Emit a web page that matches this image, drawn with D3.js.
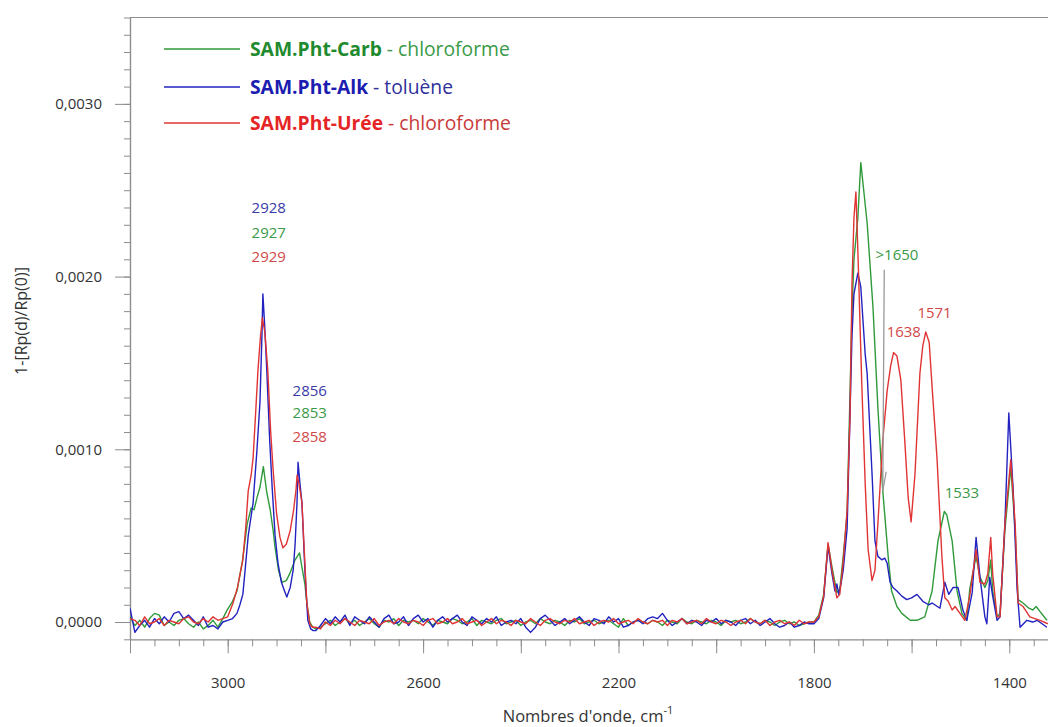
<!DOCTYPE html>
<html><head><meta charset="utf-8">
<script src="https://cdn.jsdelivr.net/npm/d3@7"></script>
<style>
html,body{margin:0;padding:0;background:#fff;}
text{font-family:"Open Sans",Lato,sans-serif;}
</style></head>
<body><svg id="chart" width="1048" height="727"></svg>
<script>
// ---------- DATA (values in units of 1e-4) ----------
const seriesNames = ["SAM.Pht-Carb", "SAM.Pht-Alk", "SAM.Pht-Urée"];
const solvents = ["chloroforme", "toluène", "chloroforme"];

// baseline grids (wavenumbers) with hand-read noise
const gridA = d3.range(3200, 3009, -10);   // 3200 .. 3010
const gridB = d3.range(2820, 1809, -10);   // 2820 .. 1810

const carbBaseA = [0.3,-0.2,0.1,-0.3,0.2,0.5,0.4,-0.2,0.0,-0.2,0.1,0.2,-0.1,-0.3,0.0,-0.4,-0.2,0.1,-0.3,0.2];
const alkBaseA  = [0.8,-0.6,-0.2,0.1,-0.3,0.2,-0.1,0.3,0.0,0.5,0.6,0.2,0.4,0.1,-0.2,0.3,-0.3,-0.2,-0.4,0.0];
const ureeBaseA = [0.2,0.1,-0.2,0.3,-0.1,0.0,0.2,-0.2,0.1,0.0,-0.1,0.2,0.3,0.0,-0.1,0.2,0.0,0.3,0.1,0.2];

const carbBaseB = [
 -0.4,-0.3,-0.1,0.1,-0.2,0.0,0.2,-0.1,0.1,-0.2,
 0.0,0.2,-0.1,-0.3,0.1,0.0,0.2,-0.2,0.1,0.0,
 0.1,-0.1,0.2,0.0,-0.2,0.1,0.0,-0.1,0.2,0.1,
 -0.1,0.0,0.2,-0.2,0.1,0.0,-0.1,0.1,0.2,-0.1,
 0.0,0.1,-0.2,0.0,0.1,-0.1,0.2,0.0,-0.1,0.1,
 0.0,-0.2,0.1,0.0,0.2,-0.1,0.0,0.1,-0.1,0.0,
 0.1,-0.1,-0.3,0.2,-0.2,0.0,0.1,0.0,-0.1,0.1,
 0.0,-0.2,0.1,0.0,-0.1,0.2,0.0,-0.1,0.1,0.0,
 -0.1,0.1,0.0,-0.2,0.1,0.0,0.1,-0.1,0.0,0.2,
 0.0,-0.1,0.1,0.0,-0.2,0.0,0.1,-0.1,0.0,-0.2,
 -0.1,0.0];
const alkBaseB = [
 -0.5,-0.2,0.2,-0.1,0.3,0.0,0.4,-0.2,0.3,0.1,
 -0.1,0.3,0.0,-0.3,0.2,0.4,-0.1,0.0,0.3,-0.2,
 0.2,0.4,0.0,0.2,-0.3,0.1,0.3,0.0,0.2,0.4,
 0.0,-0.2,0.3,0.1,-0.1,0.2,0.0,0.3,-0.2,0.0,
 0.1,-0.1,0.2,-0.3,-0.6,-0.3,0.2,0.4,0.1,-0.2,
 0.0,0.2,-0.1,0.1,0.3,0.0,-0.2,0.2,0.1,-0.1,
 0.3,0.0,0.2,-0.3,-0.2,0.0,0.1,-0.1,0.2,0.3,
 0.2,0.5,0.1,-0.2,0.0,0.2,-0.1,0.1,0.0,-0.2,
 0.1,0.0,0.2,-0.1,0.1,0.0,-0.2,0.1,0.2,-0.1,
 0.1,-0.2,0.0,0.2,-0.1,-0.3,-0.2,0.0,-0.3,-0.2,
 0.0,-0.1];
const ureeBaseB = [
 -0.3,-0.4,0.0,-0.2,0.1,-0.1,0.2,0.0,-0.2,0.1,
 0.0,-0.1,0.2,-0.2,0.0,0.1,-0.1,0.2,0.0,-0.1,
 0.1,0.0,-0.2,0.1,0.2,-0.1,0.0,0.2,-0.1,0.0,
 0.2,-0.1,0.0,0.1,-0.2,0.0,0.2,-0.1,0.1,0.0,
 -0.2,0.1,0.0,-0.1,0.2,0.0,-0.2,0.1,0.2,0.0,
 -0.1,0.1,0.0,0.2,-0.1,0.0,0.1,-0.2,0.0,0.1,
 0.0,0.2,-0.1,0.0,0.1,-0.1,0.2,0.0,-0.1,0.1,
 0.0,0.1,-0.2,0.1,0.0,0.2,-0.1,0.0,0.1,-0.1,
 0.2,0.0,-0.1,0.1,0.0,-0.2,0.0,0.1,-0.1,0.2,
 0.0,-0.1,0.1,-0.2,0.0,0.1,-0.1,0.0,-0.2,0.1,
 -0.1,0.0];

// band regions: [wavenumber, value]
const carbBands = [
 [3001,0.7],[2990,1.2],[2981,1.8],[2970,3.5],[2960,5.7],[2952,6.6],[2946,6.5],[2940,7.2],[2934,7.8],[2927,9.0],
 [2920,7.5],[2913,6.5],[2907,5.3],[2903,4.3],[2896,3.0],[2889,2.3],[2880,2.4],[2873,2.8],[2862,3.6],[2853,4.0],
 [2847,3.0],[2842,2.2],[2838,1.1],[2832,0.0],[2826,-0.3],
 [1800,0.0],[1790,0.4],[1780,1.6],[1771,4.5],[1763,3.2],[1753,1.7],[1747,1.9],[1740,3.8],[1732,6.3],[1722,18.0],
 [1718,21.0],[1710,23.4],[1704,26.6],[1691,23.1],[1679,18.2],[1669,12.4],[1659,7.6],[1648,3.8],[1641,1.8],[1630,0.9],
 [1620,0.5],[1603,0.1],[1589,0.1],[1573,0.3],[1558,1.8],[1546,4.7],[1533,6.4],[1528,6.2],[1517,4.7],[1507,1.8],
 [1497,0.5],[1487,0.1],[1481,1.9],[1468,3.8],[1460,2.6],[1450,2.0],[1444,2.4],[1438,3.6],[1434,1.8],[1425,0.3],
 [1419,0.5],[1409,5.3],[1397,9.0],[1388,5.3],[1382,1.3],[1372,1.1],[1360,0.8],[1352,0.7],[1345,0.9],[1337,0.6],[1323,0.1]
];
const alkBands = [
 [3000,0.1],[2990,0.2],[2981,0.5],[2975,1.0],[2969,1.6],[2965,2.8],[2958,5.0],[2948,6.9],[2940,10.0],[2934,12.7],
 [2930,16.5],[2928,19.0],[2924,17.0],[2920,14.6],[2914,10.5],[2909,7.8],[2903,5.0],[2897,3.4],[2890,2.3],[2885,1.9],
 [2879,1.45],[2872,2.0],[2866,3.0],[2862,4.5],[2858,7.0],[2856,9.25],[2852,8.0],[2848,6.9],[2842,3.0],[2836,0.1],
 [2830,-0.4],[2825,-0.5],
 [1800,-0.1],[1790,0.2],[1780,1.4],[1771,4.4],[1763,2.8],[1757,1.8],[1753,2.2],[1749,1.6],[1744,2.3],[1740,3.0],
 [1732,5.4],[1722,16.6],[1718,19.0],[1714,19.6],[1710,20.2],[1704,19.4],[1695,15.5],[1691,14.4],[1681,8.6],[1675,4.7],
 [1669,3.8],[1661,3.6],[1655,3.7],[1650,3.4],[1644,2.3],[1638,2.0],[1630,1.8],[1620,1.5],[1610,1.3],[1600,1.4],
 [1589,1.6],[1577,1.2],[1565,1.0],[1558,1.1],[1542,0.8],[1532,2.3],[1524,1.6],[1515,2.0],[1505,2.0],[1495,0.7],
 [1487,0.1],[1476,1.7],[1468,4.9],[1460,2.6],[1450,0.3],[1446,-0.1],[1440,2.6],[1434,1.5],[1425,0.1],[1419,0.3],
 [1409,5.7],[1401,12.1],[1392,7.6],[1384,1.9],[1378,-0.3],[1364,0.1],[1352,0.0],[1343,0.1],[1323,-0.3]
];
const ureeBands = [
 [3000,0.3],[2989,1.1],[2980,2.0],[2969,3.6],[2963,5.5],[2958,7.6],[2952,8.5],[2948,9.5],[2943,12.0],[2938,14.6],
 [2933,16.5],[2929,17.6],[2924,16.8],[2918,14.6],[2912,11.0],[2907,8.8],[2900,6.3],[2893,4.9],[2887,4.3],[2880,4.5],
 [2872,5.3],[2865,6.5],[2860,7.7],[2858,8.5],[2854,8.0],[2848,6.9],[2843,4.0],[2838,1.1],[2832,-0.1],[2827,-0.3],
 [1800,0.0],[1790,0.3],[1780,1.5],[1771,4.6],[1763,3.0],[1753,1.4],[1747,1.6],[1740,3.5],[1732,6.5],[1726,12.0],
 [1722,19.6],[1718,23.4],[1714,24.9],[1710,21.5],[1702,13.8],[1695,8.0],[1689,4.2],[1681,2.4],[1675,3.0],[1669,5.7],
 [1659,10.5],[1650,13.4],[1643,14.8],[1637,15.6],[1630,15.4],[1622,14.0],[1614,10.5],[1607,7.2],[1601,5.8],[1593,8.6],
 [1583,14.4],[1577,16.0],[1571,16.8],[1564,16.2],[1558,13.6],[1548,9.5],[1538,3.8],[1532,1.4],[1525,1.2],[1517,0.7],
 [1511,0.9],[1501,0.5],[1491,0.1],[1481,1.5],[1468,4.2],[1460,2.3],[1450,2.2],[1444,2.8],[1438,4.9],[1434,2.8],
 [1425,0.3],[1419,0.3],[1409,5.7],[1397,9.4],[1388,5.7],[1382,1.1],[1372,0.9],[1358,0.3],[1337,0.1],[1321,-0.1]
];

const seriesColors = ["#2f9a3a", "#2222c0", "#e03434"];
const boldColors   = ["#1f8a2e", "#1c1cb0", "#e52525"];
const solventColors= ["#3a9a48", "#30309a", "#c83a3a"];

const yTickValues = [0, 0.001, 0.002, 0.003];
const yTickLabels = ["0,0000", "0,0010", "0,0020", "0,0030"];
const xTickValues = [3000, 2600, 2200, 1800, 1400];
const xTickLabels = ["3000", "2600", "2200", "1800", "1400"];

// label anchor positions: wavenumber (x) and value in 1e-4 (text baseline)
const peakLabels = [
 {t:"2928", wn:2916, v:23.7, c:1}, {t:"2927", wn:2916, v:22.25, c:0}, {t:"2929", wn:2916, v:20.85, c:2},
 {t:"2856", wn:2832, v:13.1, c:1}, {t:"2853", wn:2832, v:11.8, c:0}, {t:"2858", wn:2832, v:10.4, c:2},
 {t:">1650", wn:1630, v:20.95, c:0},
 {t:"1638", wn:1616, v:16.5, c:2}, {t:"1571", wn:1553, v:17.6, c:2},
 {t:"1533", wn:1497, v:7.2, c:0}
];

// ---------- BUILD ----------
function build(baseA, bands1, baseB, bands2) {
  const pts = [];
  gridA.forEach((w,i)=>pts.push([w, baseA[i]]));
  bands1.forEach(p=>pts.push(p));
  gridB.forEach((w,i)=>pts.push([w, baseB[i]]));
  bands2.forEach(p=>pts.push(p));
  return pts.map(p=>[p[0], p[1]*1e-4]);
}
function split(b){ const i=b.findIndex(p=>p[0]===1800); return [b.slice(0,i), b.slice(i)]; }
const cb = split(carbBands), ab = split(alkBands), ub = split(ureeBands);
const data = [
  build(carbBaseA, cb[0], carbBaseB, cb[1]),
  build(alkBaseA, ab[0], alkBaseB, ab[1]),
  build(ureeBaseA, ub[0], ureeBaseB, ub[1])
];

const svg = d3.select("#chart");
const plotL = 130, plotT = 17.5, plotB = 639.3;
const x = d3.scaleLinear().domain([3200, 1400]).range([plotL, 1009.3]);
const xRight = x.invert(1048);
const y = d3.scaleLinear().domain([-0.0001, 0.0035]).range([plotB, plotT]);
const axisColor = "#8c8c8c";

svg.append("defs").append("clipPath").attr("id","clip")
  .append("rect").attr("x",plotL).attr("y",plotT).attr("width",1048-plotL).attr("height",plotB-plotT);

// frame
svg.append("line").attr("x1",plotL).attr("x2",1048).attr("y1",plotT).attr("y2",plotT).attr("stroke",axisColor).attr("stroke-width",1.2);

// Y axis
const yMinor = d3.range(-1, 36).map(i=>i*1e-4);
const gyMinor = svg.append("g").attr("transform",`translate(${plotL},0)`)
  .call(d3.axisLeft(y).tickValues(yMinor).tickSize(6).tickFormat("").tickSizeOuter(0));
const gy = svg.append("g").attr("transform",`translate(${plotL},0)`)
  .call(d3.axisLeft(y).tickValues(yTickValues).tickSize(15).tickPadding(13).tickSizeOuter(0)
  .tickFormat((d,i)=>yTickLabels[i]));
[gy, gyMinor].forEach(g=>{
  g.select(".domain").attr("stroke",axisColor).attr("stroke-width",1.2);
  g.selectAll(".tick line").attr("stroke",axisColor);
});
gy.selectAll(".tick text").attr("font-size",15).attr("fill","#333").attr("font-family","'Open Sans', sans-serif");

// X axis
const xMinor = d3.range(3200, 1299, -50).filter(v=>v>=xRight);
const gxMinor = svg.append("g").attr("transform",`translate(0,${plotB})`)
  .call(d3.axisBottom(x).tickValues(xMinor).tickSize(7).tickFormat("").tickSizeOuter(0));
gxMinor.select(".domain").attr("stroke",axisColor).attr("stroke-width",1.2).attr("d",`M${plotL},0.5H1048`);
const xMajor = d3.range(3200, 1299, -200).filter(v=>v>=xRight);
const gxMajor = svg.append("g").attr("transform",`translate(0,${plotB})`)
  .call(d3.axisBottom(x).tickValues(xMajor).tickSize(14).tickFormat("").tickSizeOuter(0));
gxMajor.select(".domain").remove();
const gx = svg.append("g").attr("transform",`translate(0,${plotB})`)
  .call(d3.axisBottom(x).tickValues(xTickValues).tickSize(0).tickPadding(38).tickFormat((d,i)=>xTickLabels[i]));
gx.select(".domain").remove();
gx.selectAll(".tick text").attr("font-size",15).attr("fill","#333").attr("font-family","'Open Sans', sans-serif");
[gxMinor, gxMajor].forEach(g=>g.selectAll(".tick line").attr("stroke",axisColor));

// axis titles
svg.append("text").attr("transform","translate(27,321) rotate(-90)").attr("text-anchor","middle")
  .attr("font-size",16).attr("fill","#333").text("1-[Rp(d)/Rp(0)]");
const xt = svg.append("text").attr("x",588).attr("y",722).attr("text-anchor","middle")
  .attr("font-size",16.5).attr("fill","#333");
xt.append("tspan").text("Nombres d'onde, cm");
xt.append("tspan").attr("dy",-8).attr("font-size",11).text("-1");

// lines
const line = d3.line().x(d=>x(d[0])).y(d=>y(d[1]));
const gl = svg.append("g").attr("clip-path","url(#clip)");
data.forEach((s,i)=>{
  gl.append("path").datum(s).attr("d",line).attr("fill","none")
    .attr("stroke",seriesColors[i]).attr("stroke-width",1.4).attr("stroke-linejoin","round");
});

// legend
const legY = [49, 87, 123];
seriesNames.forEach((n,i)=>{
  svg.append("line").attr("x1",164).attr("x2",240).attr("y1",legY[i]).attr("y2",legY[i])
    .attr("stroke",seriesColors[i]).attr("stroke-width",1.3);
  const t = svg.append("text").attr("x",250).attr("y",legY[i]+6.5).attr("font-size",19.3);
  t.append("tspan").attr("font-weight","bold").attr("fill",boldColors[i]).text(n);
  t.append("tspan").attr("fill",solventColors[i]).text(" - " + solvents[i]);
});

// peak labels
const labelColors = ["#3a9a48", "#3a3aa8", "#d04848"];
peakLabels.forEach(p=>{
  svg.append("text").attr("x",x(p.wn)).attr("y",y(p.v*1e-4)).attr("text-anchor","middle")
    .attr("font-size",15).attr("fill",labelColors[p.c]).text(p.t);
});

// >1650 pointer
svg.append("line").attr("x1",x(1656)).attr("x2",x(1659)).attr("y1",y(20.4e-4)).attr("y2",y(7.6e-4))
  .attr("stroke","#999").attr("stroke-width",1.3);
svg.append("line").attr("x1",x(1659)).attr("x2",x(1652)).attr("y1",y(7.6e-4)).attr("y2",y(8.7e-4))
  .attr("stroke","#999").attr("stroke-width",1.3);
</script></body></html>
